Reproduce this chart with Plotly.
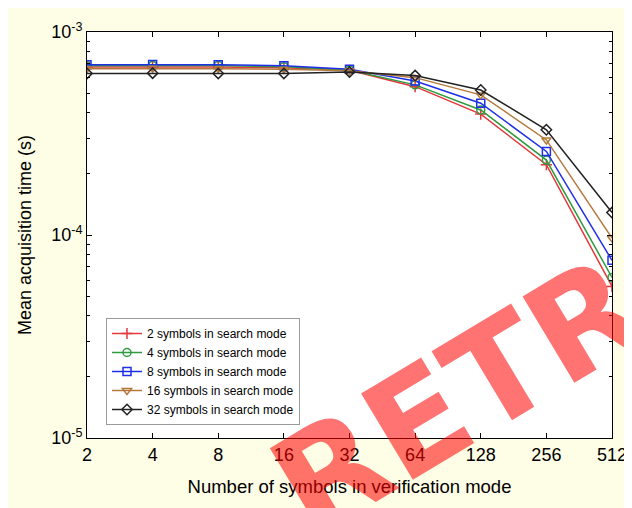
import plotly.graph_objects as go

categories = ["2", "4", "8", "16", "32", "64", "128", "256", "512"]

s2 = [6.73e-4, 6.75e-4, 6.72e-4, 6.66e-4, 6.48e-4, 5.38e-4, 3.94e-4, 2.22e-4, 5.58e-5]
s4 = [6.82e-4, 6.84e-4, 6.83e-4, 6.75e-4, 6.50e-4, 5.49e-4, 4.13e-4, 2.34e-4, 6.18e-5]
s8 = [6.90e-4, 6.92e-4, 6.90e-4, 6.82e-4, 6.55e-4, 5.74e-4, 4.46e-4, 2.58e-4, 7.50e-5]
s16 = [6.60e-4, 6.62e-4, 6.60e-4, 6.55e-4, 6.45e-4, 5.96e-4, 4.90e-4, 2.94e-4, 9.66e-5]
s32 = [6.25e-4, 6.27e-4, 6.25e-4, 6.25e-4, 6.35e-4, 6.10e-4, 5.18e-4, 3.30e-4, 1.29e-4]

series_names = ["2 symbols in search mode", "4 symbols in search mode",
                "8 symbols in search mode", "16 symbols in search mode",
                "32 symbols in search mode"]
series_values = [s2, s4, s8, s16, s32]
colors = ["#e4383c", "#2f9a3f", "#1f2fe8", "#b47a3c", "#222222"]
symbols = ["cross-thin-open", "circle-open", "square-open", "triangle-down-open", "diamond-open"]

ytick_vals = [1e-5, 1e-4, 1e-3]
ytick_text = ["10<sup>-5</sup>", "10<sup>-4</sup>", "10<sup>-3</sup>"]
minor_vals = [m * 10 ** e for e in (-5, -4) for m in range(2, 10)]

# the page body has an 8px margin; the figure fills the window from (8, 8)
OFF = 8
W, H = 632 - OFF, 508 - OFF
ML, MT = 87 - OFF, 32 - OFF
MR = W - (612 - OFF)
MB = H - (438 - OFF)
PW, PH = W - ML - MR, H - MT - MB


def px(xp):
    return (xp - OFF - ML) / PW


def py(yp):
    return (H - MB - (yp - OFF)) / PH


fig = go.Figure()
for name, vals, c, s in zip(series_names, series_values, colors, symbols):
    fig.add_trace(go.Scatter(
        x=categories, y=vals, name=name, mode="lines+markers",
        line=dict(color=c, width=1.5),
        marker=dict(symbol=s, size=8, color=c, line=dict(color=c, width=1.5)),
    ))

font = "Liberation Sans, Arial, sans-serif"
fig.update_layout(
    width=W, height=H,
    margin=dict(l=ML, r=MR, t=MT, b=MB, autoexpand=False),
    paper_bgcolor="#fefde6",
    plot_bgcolor="white",
    font=dict(family=font, color="black"),
    showlegend=True,
    legend=dict(
        x=px(106), y=py(318), xanchor="left", yanchor="top",
        bgcolor="white", bordercolor="#9a9a9a", borderwidth=1,
        font=dict(size=12, family=font), itemwidth=30,
        tracegroupgap=0,
    ),
    xaxis=dict(
        type="category", range=[0, 8], automargin=False,
        showline=True, linecolor="black", linewidth=1, mirror="ticks",
        ticks="inside", ticklen=5, tickcolor="black",
        showgrid=False, zeroline=False,
        tickfont=dict(size=18),
        title=dict(text="Number of symbols in verification mode", font=dict(size=18.5), standoff=16),
    ),
    yaxis=dict(
        type="log", range=[-5, -3], automargin=False,
        showline=True, linecolor="black", linewidth=1, mirror="ticks",
        ticks="inside", ticklen=5, tickcolor="black",
        tickmode="array", tickvals=ytick_vals, ticktext=ytick_text,
        minor=dict(ticks="inside", ticklen=3, tickcolor="black", tickmode="array", tickvals=minor_vals),
        showgrid=False, zeroline=False,
        tickfont=dict(size=18),
        title=dict(text="Mean acquisition time (s)", font=dict(size=18), standoff=14),
    ),
    annotations=[
        dict(text="RETRACTED", xref="paper", yref="paper", x=px(677), y=py(265),
             showarrow=False, textangle=-31, xanchor="center", yanchor="middle",
             font=dict(family="DejaVu Sans", size=138, color="rgba(255,0,0,0.55)", weight="bold")),
    ],
)

fig.write_html("out.html")
